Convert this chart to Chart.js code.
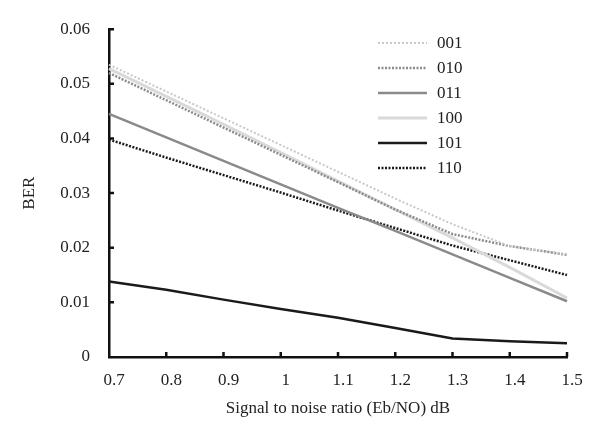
<!DOCTYPE html>
<html>
<head>
<meta charset="utf-8">
<script src="https://cdn.jsdelivr.net/npm/chart.js@4.4.0/dist/chart.umd.min.js"></script>
<style>
  html, body { margin: 0; padding: 0; background: #fff; }
  #wrap { width: 594px; height: 425px; }
</style>
</head>
<body>
<div id="wrap"><canvas id="chart" width="594" height="425"></canvas></div>
<script>
// SNR values (x) and y tick labels
let snr = ['0.7', '0.8', '0.9', '1', '1.1', '1.2', '1.3', '1.4', '1.5'];
let yTicks = ['0', '0.01', '0.02', '0.03', '0.04', '0.05', '0.06'];

// BER
let ber001 = [0.0535, 0.0486, 0.0437, 0.0388, 0.0339, 0.0290, 0.0243, 0.0203, 0.0188];
let ber010 = [0.0520, 0.0470, 0.0420, 0.0370, 0.0320, 0.0270, 0.0225, 0.0203, 0.0187];
let ber011 = [0.0445, 0.0402, 0.0359, 0.0316, 0.0273, 0.0231, 0.0188, 0.0145, 0.0102];
let ber100 = [0.0528, 0.0477, 0.0426, 0.0374, 0.0322, 0.0270, 0.0218, 0.0164, 0.0108];
let ber101 = [0.0138, 0.0123, 0.0105, 0.0088, 0.0072, 0.0053, 0.0034, 0.0029, 0.0025];
let ber110 = [0.0398, 0.0365, 0.0333, 0.0301, 0.0268, 0.0236, 0.0204, 0.0177, 0.0150];

let serif = "'Liberation Serif', 'DejaVu Serif', serif";

function ds(label, data, color, width, dash) {
    return {
        label: label,
        data: data,
        borderColor: color,
        backgroundColor: color,
        borderWidth: width,
        borderDash: dash,
        pointRadius: 0,
        tension: 0,
        fill: false
    };
}

// ticks pointing into the plot + legend inside the plot
let insidePlugin = {
    id: 'inside',
    afterDraw(chart) {
        let ctx = chart.ctx;
        let x = chart.scales.x, y = chart.scales.y;
        let a = chart.chartArea;
        ctx.save();
        ctx.strokeStyle = '#111';
        ctx.lineWidth = 2.5;
        ctx.beginPath();
        for (let i = 1; i < x.ticks.length; i++) {
            let px = x.getPixelForTick(i);
            ctx.moveTo(px, a.bottom);
            ctx.lineTo(px, a.bottom - 5);
        }
        for (let i = 1; i < y.ticks.length; i++) {
            let py = y.getPixelForTick(i);
            ctx.moveTo(a.left, py);
            ctx.lineTo(a.left + 5, py);
        }
        ctx.stroke();

        // legend
        ctx.font = '17px ' + serif;
        ctx.fillStyle = '#222';
        ctx.textBaseline = 'middle';
        ctx.textAlign = 'left';
        chart.data.datasets.forEach(function (d, i) {
            let ly = 43 + i * 25;
            ctx.strokeStyle = d.borderColor;
            ctx.lineWidth = d.borderWidth;
            ctx.setLineDash(d.borderDash || []);
            ctx.beginPath();
            ctx.moveTo(378, ly);
            ctx.lineTo(427, ly);
            ctx.stroke();
            ctx.setLineDash([]);
            ctx.fillText(d.label, 437, ly + 1);
        });
        ctx.restore();
    }
};

let context = document.querySelector('#chart').getContext('2d');
new Chart(context, {
    type: 'line',
    data: {
        labels: snr,
        datasets: [
            ds('001', ber001, '#c8c8c8', 2, [2, 2]),
            ds('010', ber010, '#8c8c8c', 2.5, [2, 1.5]),
            ds('011', ber011, '#8a8a8a', 2.5, []),
            ds('100', ber100, '#d9d9d9', 3, []),
            ds('101', ber101, '#1a1a1a', 2.5, []),
            ds('110', ber110, '#1a1a1a', 2.5, [2, 1.5])
        ]
    },
    options: {
        responsive: false,
        animation: false,
        layout: { padding: { left: 0, right: 27, top: 22, bottom: 0 } },
        plugins: { legend: { display: false }, tooltip: { enabled: false } },
        scales: {
            x: {
                type: 'category',
                offset: false,
                grid: { display: false, drawTicks: false },
                border: { display: true, color: '#111', width: 2.5 },
                ticks: {
                    padding: 13,
                    labelOffset: 5,
                    maxRotation: 0,
                    autoSkip: false,
                    color: '#222',
                    font: { family: serif, size: 17 }
                },
                title: {
                    display: true,
                    text: 'Signal to noise ratio (Eb/NO) dB',
                    color: '#222',
                    font: { family: serif, size: 17 },
                    padding: { top: 0, bottom: 6 }
                },
                afterFit(scale) { scale.height = 68; }
            },
            y: {
                min: 0,
                max: 0.06,
                grid: { display: false, drawTicks: false },
                border: { display: true, color: '#111', width: 2.5 },
                ticks: {
                    stepSize: 0.01,
                    padding: 19,
                    color: '#222',
                    font: { family: serif, size: 17 },
                    callback: function (v, i) { return yTicks[i]; }
                },
                title: {
                    display: true,
                    text: 'BER',
                    color: '#222',
                    font: { family: serif, size: 17 },
                    padding: { top: 19, bottom: 0 }
                },
                afterFit(scale) { scale.width = 109; }
            }
        }
    },
    plugins: [insidePlugin]
});
</script>
</body>
</html>
